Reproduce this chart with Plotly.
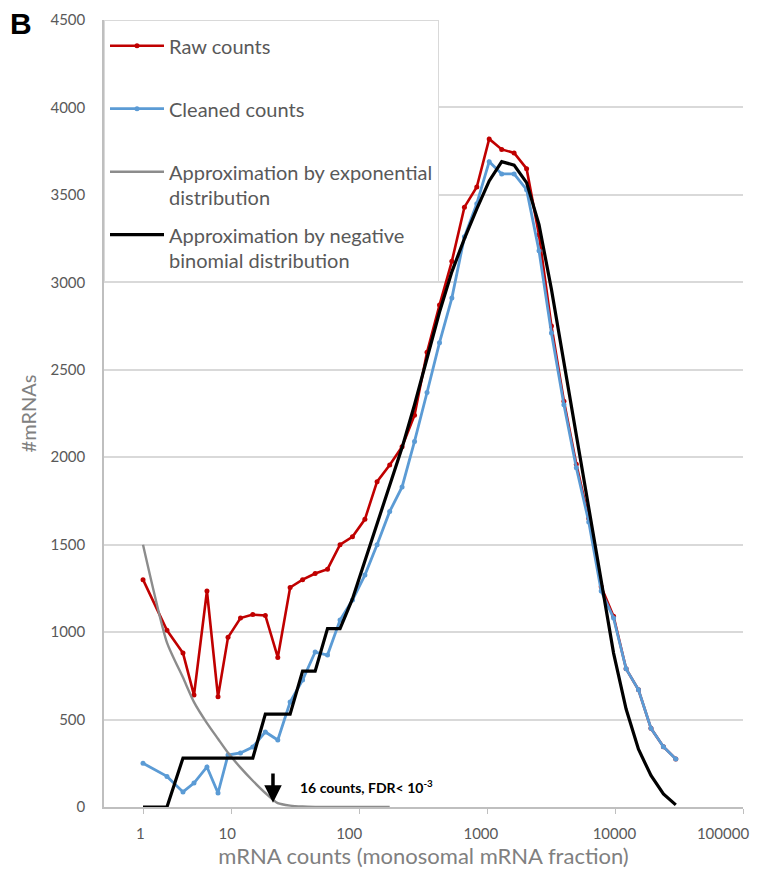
import math
import plotly.graph_objects as go

# bins (mRNA counts)
counts = [2.02, 3.11, 4.15, 5.06, 6.39, 7.80, 9.34, 11.7, 14.6, 18.3, 22.9, 28.6, 35.8,
          44.9, 56.1, 70.3, 87.9, 110, 137, 172, 215, 269, 337, 422, 527, 661, 826,
          1033, 1294, 1618, 2026, 2534, 3170, 3970, 4963, 6212, 7770, 9710, 12170,
          15210, 19050, 23830, 29800]

raw_counts = [1300, 1010, 880, 640, 1235, 630, 970, 1080, 1100, 1095, 855, 1255, 1300,
              1335, 1360, 1500, 1545, 1645, 1860, 1955, 2060, 2240, 2600, 2870, 3120,
              3430, 3545, 3820, 3760, 3740, 3650, 3270, 2750, 2320, 1960, 1650, 1260,
              1090, 790, 670, 450, 345, 275]

cleaned_counts = [250, 175, 86, 137, 229, 80, 297, 309, 343, 429, 383, 600, 726,
                  886, 869, 1069, 1183, 1326, 1500, 1690, 1830, 2090, 2370, 2655, 2910,
                  3260, 3450, 3690, 3620, 3620, 3530, 3180, 2710, 2300, 1940, 1630, 1235,
                  1080, 790, 670, 450, 345, 275]

neg_binomial = [0, 0, 280, 280, 280, 280, 280, 280, 280, 531, 531, 531, 777,
                777, 1020, 1020, 1190, 1405, 1615, 1840, 2055, 2300, 2570, 2830, 3060,
                3250, 3420, 3580, 3690, 3670, 3570, 3330, 2960, 2540, 2120, 1690, 1270,
                880, 560, 330, 180, 75, 12]

exp_counts = counts[:20]
exponential = [1500, 940, 740, 600, 480, 390, 310, 225, 150, 80, 22, 8, 3,
               1, 0, 0, 0, 0, 0, 0]

tick_values = [counts[0], 10, 100, 1000, 10000, 100000]
tick_labels = ["1", "10", "100", "1000", "10000", "100000"]
# leading non-breaking spaces nudge labels right (all labels are shifted left by the axis)
label_pad = [9, 8, 5, 7, 10, 0]
tick_text = ["&nbsp;" * p + t for t, p in zip(tick_labels, label_pad)]

threshold_count = 21      # arrow position on the axis
threshold_text_x = 33
FONT = "Lato"

fig = go.Figure()
fig.add_trace(go.Scatter(x=counts, y=raw_counts, mode="lines+markers",
                         name="Raw counts<br> ", legendgroup="a",
                         line=dict(color="#c00000", width=2.6),
                         marker=dict(size=5, color="#c00000")))
fig.add_trace(go.Scatter(x=counts, y=cleaned_counts, mode="lines+markers",
                         name="Cleaned counts<br> ", legendgroup="b",
                         line=dict(color="#5b9bd5", width=2.8),
                         marker=dict(size=5, color="#5b9bd5")))
fig.add_trace(go.Scatter(x=exp_counts, y=exponential, mode="lines",
                         name="Approximation by exponential<br>distribution", legendgroup="c",
                         line=dict(color="#8c8c8c", width=2.4, shape="spline", smoothing=0.6)))
fig.add_trace(go.Scatter(x=counts, y=neg_binomial, mode="lines",
                         name="Approximation by negative<br>binomial distribution", legendgroup="d",
                         line=dict(color="#000000", width=3.2)))

fig.add_annotation(x=math.log10(threshold_count), y=25, ax=math.log10(threshold_count), ay=200,
                   xref="x", yref="y", axref="x", ayref="y", text="", showarrow=True,
                   arrowhead=2, arrowsize=1, arrowwidth=3.5, arrowcolor="#000000")
fig.add_annotation(x=math.log10(threshold_text_x), y=120, xref="x", yref="y",
                   text="<b>16 counts, FDR&lt; 10<sup>-3</sup></b>", showarrow=False,
                   xanchor="left", yanchor="middle",
                   font=dict(family=FONT, size=14, color="#000000"))
fig.add_annotation(x=-96 / 639, y=1 + 12 / 787, xref="paper", yref="paper",
                   text="<b>B</b>", showarrow=False, xanchor="left", yanchor="top",
                   yshift=3, font=dict(family="Liberation Sans", size=30, color="#000000"))

fig.update_layout(
    width=758, height=877,
    margin=dict(l=96, r=23, t=12, b=78, autoexpand=False),
    paper_bgcolor="white", plot_bgcolor="white",
    font=dict(family=FONT, color="#595959"),
    legend=dict(x=0, y=1, xanchor="left", yanchor="top", bgcolor="white",
                bordercolor="#d9d9d9", borderwidth=1, valign="top",
                traceorder="grouped", tracegroupgap=8, itemwidth=54,
                title=dict(text=" ", font=dict(size=4)),
                font=dict(family=FONT, size=20, color="#595959")),
    xaxis=dict(type="log", range=[0, 5], tickvals=tick_values, ticktext=tick_text,
               showgrid=False, showline=True, linecolor="#bfbfbf", linewidth=1.5,
               ticks="outside", ticklen=5, tickcolor="#bfbfbf",
               ticklabelshift=-20, ticklabelstandoff=7, ticklabeloverflow="allow",
               automargin=False,
               tickfont=dict(family=FONT, size=15, color="#595959"),
               title=dict(text="mRNA counts (monosomal mRNA fraction)", standoff=8,
                          font=dict(family=FONT, size=22, color="#808080"))),
    yaxis=dict(range=[0, 4500], dtick=500, showgrid=True, gridcolor="#d9d9d9", gridwidth=1.5,
               showline=True, linecolor="#bfbfbf", linewidth=1.5, ticks="",
               ticklabelstandoff=14, zeroline=False, automargin=False,
               tickfont=dict(family=FONT, size=15, color="#595959"),
               title=dict(text="#mRNAs", standoff=8,
                          font=dict(family=FONT, size=20, color="#808080"))),
)

fig.write_html("out.html")
